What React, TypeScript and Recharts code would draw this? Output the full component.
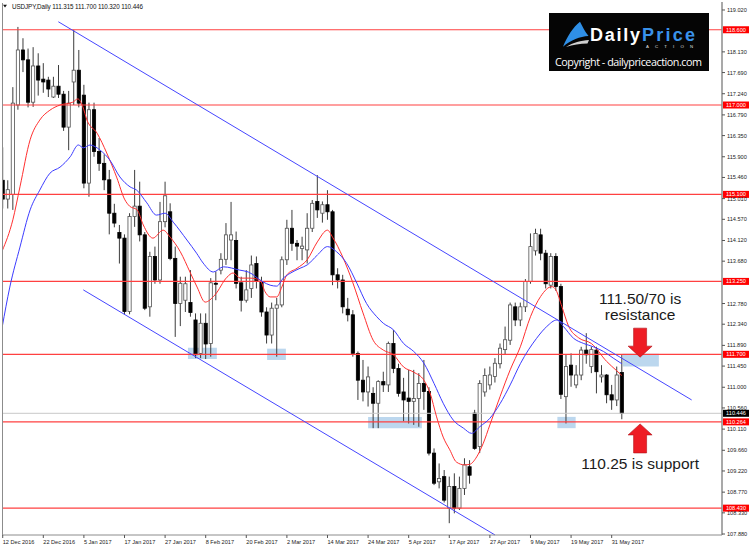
import React from "react";
import { ComposedChart, Bar, Line, XAxis, YAxis, ReferenceLine, ReferenceArea, ReferenceDot } from "recharts";

// daily candles (bar index 0 = 12 Dec 2016)
const opens = [
  115.4, 115.0, 115.1, 117.0, 118.17, 117.96, 117.06, 117.83, 117.55, 117.53,
  117.17, 117.4, 117.23, 116.53, 117.49, 117.74, 117.21, 115.34, 116.9, 116.01,
  115.76, 115.41, 114.7, 114.29, 114.17, 112.61, 114.63, 114.85, 114.24, 112.71,
  113.78, 113.28, 114.52, 114.73, 113.74, 112.78, 112.85, 112.8, 112.43, 111.72,
  112.36, 111.93, 113.21, 113.49, 113.72, 114.13, 114.12, 113.22, 112.85, 113.1,
  113.63, 113.25, 112.6, 112.11, 112.68, 112.75, 113.71, 114.38, 114.06, 113.95,
  113.92, 114.38, 114.95, 114.7, 114.88, 114.73, 113.39, 113.28, 112.66, 112.54,
  111.72, 111.15, 110.9, 110.87, 110.66, 111.12, 111.05, 111.93, 111.4, 110.9,
  110.77, 110.7, 110.76, 111.08, 110.91, 109.6, 108.99, 109.1, 108.43, 108.89,
  108.43, 108.85, 109.31, 110.45, 109.74, 110.9, 111.05, 111.23, 111.5, 111.8,
  112.0, 112.71, 112.43, 112.71, 113.25, 113.9, 114.24, 113.85, 113.17, 113.78,
  113.14, 110.8, 111.47, 111.05, 111.26, 111.79, 111.44, 111.79, 111.22, 111.26,
  110.84, 110.73, 111.315,
];
const highs = [
  116.1, 115.4, 117.38, 118.66, 118.42, 118.2, 118.23, 118.1, 117.89, 117.6,
  117.6, 117.85, 117.3, 117.3, 118.6, 118.17, 117.43, 117.05, 117.05, 116.3,
  115.95, 115.62, 114.9, 114.45, 114.25, 114.7, 115.62, 115.37, 114.3, 113.88,
  113.99, 114.94, 115.37, 114.91, 113.99, 113.35, 113.35, 113.49, 112.57, 112.57,
  112.57, 113.32, 113.46, 113.85, 114.49, 114.94, 114.31, 113.35, 113.49, 113.8,
  113.78, 113.35, 112.7, 112.8, 112.9, 113.78, 114.56, 114.77, 114.13, 114.2,
  114.7, 114.98, 115.51, 114.95, 115.19, 114.77, 113.53, 113.39, 112.9, 112.64,
  111.76, 111.58, 111.44, 111.0, 111.15, 111.33, 111.97, 112.22, 111.5, 111.2,
  111.37, 111.37, 111.3, 111.58, 111.0, 109.7, 109.38, 109.24, 109.1, 109.17,
  109.1, 109.49, 109.45, 110.52, 111.15, 111.4, 111.44, 111.62, 111.93, 112.29,
  112.8, 112.8, 112.8, 113.3, 114.27, 114.37, 114.37, 113.92, 113.85, 113.85,
  113.2, 111.69, 111.72, 111.47, 111.86, 112.15, 111.86, 111.86, 111.47, 111.28,
  111.05, 111.44, 111.7,
];
const lows = [
  114.8, 114.8, 114.77, 116.9, 117.7, 116.95, 116.96, 117.2, 117.26, 117.17,
  117.15, 117.15, 116.45, 116.04, 117.0, 116.95, 115.23, 115.05, 115.9, 115.6,
  115.19, 114.25, 114.4, 113.63, 112.55, 112.55, 114.41, 114.1, 112.64, 112.5,
  113.2, 113.2, 114.4, 113.7, 112.07, 112.3, 112.6, 112.5, 111.62, 111.62,
  111.6, 111.65, 112.85, 113.4, 113.6, 113.7, 113.1, 112.61, 112.8, 112.9,
  113.1, 112.5, 111.93, 111.93, 111.65, 112.7, 113.6, 113.9, 113.7, 113.7,
  113.63, 114.3, 114.6, 114.5, 114.56, 113.17, 113.1, 112.57, 112.4, 111.65,
  110.73, 110.7, 110.59, 110.13, 110.13, 110.9, 110.9, 111.3, 110.8, 110.28,
  110.23, 110.2, 110.16, 110.52, 109.55, 108.92, 108.85, 108.55, 108.11, 108.32,
  108.39, 108.71, 108.95, 109.67, 109.6, 110.8, 110.95, 111.1, 111.4, 111.7,
  111.9, 112.3, 112.3, 112.6, 113.2, 113.8, 113.7, 113.1, 113.1, 113.05,
  110.75, 110.23, 111.01, 110.98, 111.15, 111.5, 111.3, 110.87, 111.1, 110.66,
  110.52, 110.6, 110.32,
];
const closes = [
  115.0, 115.2, 117.04, 118.17, 117.96, 117.06, 117.83, 117.53, 117.49, 117.34,
  117.4, 117.23, 116.53, 117.04, 117.74, 117.04, 115.34, 116.9, 116.01, 115.76,
  115.41, 114.7, 114.49, 114.17, 112.61, 114.63, 114.85, 114.24, 112.68, 113.78,
  113.28, 114.52, 115.07, 113.74, 112.78, 113.21, 113.2, 112.59, 111.69, 112.36,
  111.92, 113.22, 113.19, 113.72, 114.24, 114.24, 113.21, 112.85, 113.07, 113.6,
  113.25, 112.6, 112.11, 112.68, 112.75, 113.71, 114.38, 114.06, 114.0, 114.0,
  114.38, 114.91, 114.77, 114.88, 114.73, 113.39, 113.28, 112.71, 112.54, 111.72,
  111.15, 110.9, 111.22, 110.66, 111.12, 111.05, 111.93, 111.4, 110.87, 110.73,
  110.7, 110.76, 111.08, 110.91, 109.6, 108.96, 109.06, 108.6, 108.89, 108.43,
  108.85, 109.35, 109.13, 109.7, 111.08, 111.25, 111.26, 111.51, 111.83, 112.01,
  112.75, 112.43, 112.71, 113.25, 113.99, 114.27, 113.85, 113.2, 113.78, 113.14,
  110.85, 111.44, 111.26, 111.26, 111.79, 111.69, 111.8, 111.33, 111.26, 110.84,
  110.73, 111.26, 110.446,
];

// moving averages, sampled off the chart (bar index, price)
const redMaIdx = [-0.1, 2, 3.4, 5.4, 7.3, 9.3, 11.3, 13.8, 14.8, 15.8, 16.6, 18.6, 20.5, 22.5, 24, 25, 26.5, 27.7, 29.6, 31.6, 33, 35, 36.9, 38.3, 39.9, 41.8, 44.2, 45.4, 46.8, 48.7, 50.7, 51.7, 52.7, 54, 55, 56, 58, 60, 62, 64, 65, 67, 69, 71, 73, 75, 77, 79, 81, 83, 84.2, 85.5, 86.8, 88.1, 89.4, 91, 92, 93.4, 94.7, 96, 98, 100, 102, 104, 106, 108.2, 109, 110.2, 111.5, 113.5, 116, 119, 121, 122];
const redMaVal = [113.9, 114.56, 115.26, 116.26, 116.68, 116.89, 117.0, 117.06, 117.13, 116.96, 116.68, 116.4, 115.98, 115.45, 115.0, 114.85, 114.77, 114.45, 114.17, 114.34, 114.19, 113.88, 113.45, 113.13, 112.81, 112.96, 113.34, 113.43, 113.32, 113.32, 113.28, 113.03, 112.92, 112.92, 113.13, 113.39, 113.53, 113.71, 114.09, 114.34, 114.19, 113.77, 113.22, 112.58, 112.0, 111.79, 111.69, 111.43, 111.32, 111.15, 110.88, 110.37, 109.94, 109.67, 109.41, 109.35, 109.36, 109.52, 109.81, 110.2, 110.8, 111.37, 111.86, 112.5, 112.93, 113.14, 113.07, 112.71, 112.3, 112.05, 111.93, 111.55, 111.35, 111.25];
const blueMaIdx = [-0.1, 1.4, 3.4, 5.4, 7.3, 9.3, 11.3, 13.3, 14.9, 15.9, 17.2, 19.2, 21.1, 23.1, 25.1, 26.4, 28.4, 30.3, 32, 33.6, 36.3, 38.2, 39.5, 41.5, 43.5, 46.7, 48.4, 51.3, 52.7, 54, 55.3, 56.6, 58.6, 60, 62, 64, 65.8, 67.8, 69.8, 71.7, 73.7, 75, 77, 79, 81, 83, 85, 86.8, 88.8, 90.8, 92.4, 94, 96, 98, 100, 102, 105.2, 107.2, 109.2, 110.5, 112.5, 114.5, 116.4, 118.4, 120.3, 122];
const blueMaVal = [112.28, 113.13, 113.98, 114.77, 115.19, 115.55, 115.68, 115.9, 116.15, 116.09, 116.15, 116.04, 115.83, 115.47, 115.26, 115.19, 114.92, 114.66, 114.7, 114.51, 114.13, 113.85, 113.64, 113.45, 113.56, 113.49, 113.45, 113.24, 113.17, 113.15, 113.32, 113.42, 113.53, 113.6, 113.81, 113.99, 113.88, 113.63, 113.21, 112.78, 112.5, 112.36, 112.22, 111.93, 111.76, 111.51, 111.08, 110.66, 110.3, 110.13, 110.02, 110.16, 110.34, 110.65, 111.05, 111.5, 112.04, 112.29, 112.43, 112.29, 112.04, 111.93, 111.86, 111.76, 111.62, 111.5];

// drawn objects
const levels = [118.6, 117.0, 115.1, 113.25, 111.7, 110.264, 108.43];
const lastPrice = 110.446;
const channelUpper = [[10.96, 118.77], [135.76, 110.73]];
const channelLower = [[15.88, 113.07], [97.0, 107.86]];
const zones = [
  [36.5, 42.2, 111.6, 111.84],
  [52.1, 55.8, 111.58, 111.82],
  [72.0, 82.6, 110.13, 110.37],
  [109.3, 112.9, 110.13, 110.37],
  [122.2, 129.3, 111.44, 111.71],
];

const xTickIdx = [0, 8, 16, 24, 32, 40, 48, 56, 64, 72, 80, 88, 96, 104, 112, 120];
const xTickLabels = ["12 Dec 2016", "22 Dec 2016", "5 Jan 2017", "17 Jan 2017", "27 Jan 2017", "8 Feb 2017", "20 Feb 2017", "2 Mar 2017", "14 Mar 2017", "24 Mar 2017", "5 Apr 2017", "17 Apr 2017", "27 Apr 2017", "9 May 2017", "19 May 2017", "31 May 2017"];
const yTicks = [119.02, 118.13, 117.69, 117.24, 116.79, 116.35, 115.9, 115.46, 115.01, 114.57, 114.12, 113.68, 112.78, 112.34, 111.89, 111.45, 111.0, 110.56, 110.11, 109.66, 109.22, 108.77, 108.33, 107.88];

const candles = opens.map((o, i) => ({ i, o, h: highs[i], l: lows[i], c: closes[i] }));
const redMa = redMaIdx.map((i, k) => ({ i, v: redMaVal[k] }));
const blueMa = blueMaIdx.map((i, k) => ({ i, v: blueMaVal[k] }));

const FONT = "'Liberation Sans', Arial, sans-serif";

function Candle(props: any) {
  const { x, y, width, height, payload } = props;
  if (x == null || !payload) return null;
  const top = Math.min(y, y + height);
  const bot = Math.max(y, y + height);
  const span = payload.h - payload.l || 1;
  const py = (v: number) => top + ((payload.h - v) / span) * (bot - top);
  const cx = x + width / 2;
  const up = payload.c >= payload.o;
  const bTop = py(Math.max(payload.o, payload.c));
  const bBot = py(Math.min(payload.o, payload.c));
  return (
    <g>
      <line x1={cx} x2={cx} y1={top} y2={bot} stroke="#3c3c3c" strokeWidth={1} />
      <rect
        x={cx - 1.6}
        y={bTop}
        width={3.2}
        height={Math.max(bBot - bTop, 0.8)}
        fill={up ? "#ffffff" : "#000000"}
        stroke={up ? "#505050" : "#000000"}
        strokeWidth={0.8}
      />
    </g>
  );
}

function PriceTag({ viewBox, text, bg }: any) {
  if (!viewBox) return null;
  const x = viewBox.x + viewBox.width + 1;
  const y = viewBox.y;
  return (
    <g>
      <rect x={x} y={y - 3.5} width={26} height={7} fill={bg} />
      <text x={x + 13} y={y + 2} fontSize={5.6} fill="#fff" textAnchor="middle" fontFamily={FONT}>
        {text}
      </text>
    </g>
  );
}

function XTick({ x, y, payload }: any) {
  const k = xTickIdx.indexOf(payload.value);
  return (
    <text x={x} y={y + 4} fontSize={5.6} fill="#222" fontFamily={FONT}>
      {xTickLabels[k]}
    </text>
  );
}

const noteText = (txt: string) => (p: any) => (
  <text x={p.cx} y={p.cy} fontSize={15.5} fill="#1a1a1a" textAnchor="middle" fontFamily={FONT}>
    {txt}
  </text>
);

const ArrowDown = (p: any) => (
  <path
    d={`M${p.cx - 6.5},${p.cy - 29} h13 v18 h5.5 L${p.cx},${p.cy} L${p.cx - 12},${p.cy - 11} h5.5 Z`}
    fill="#ee1c24"
    stroke="#b01018"
    strokeWidth={0.6}
  />
);
const ArrowUp = (p: any) => (
  <path
    d={`M${p.cx - 6.5},${p.cy + 29} h13 v-18 h5.5 L${p.cx},${p.cy} L${p.cx - 12},${p.cy + 11} h5.5 Z`}
    fill="#ee1c24"
    stroke="#b01018"
    strokeWidth={0.6}
  />
);

export default function App() {
  return (
    <div style={{ position: "relative", width: 750, height: 549, background: "#fff" }}>
      <style>{`body{margin:0}`}</style>
      <ComposedChart width={750} height={549} data={candles} margin={{ top: 2, right: 0, bottom: 0, left: 2 }}>
        <XAxis
          type="number"
          dataKey="i"
          domain={[-0.14, 141.74]}
          allowDataOverflow
          ticks={xTickIdx}
          interval={0}
          tick={<XTick />}
          tickSize={3}
          height={14}
          axisLine={{ stroke: "#8c8c8c" }}
          tickLine={{ stroke: "#555" }}
        />
        <YAxis
          orientation="right"
          type="number"
          domain={[107.859, 119.19]}
          allowDataOverflow
          ticks={yTicks}
          interval={0}
          width={28}
          tickSize={3}
          tickFormatter={(v: number) => v.toFixed(3)}
          tick={{ fontSize: 5.6, fill: "#222", fontFamily: FONT }}
          axisLine={{ stroke: "#8c8c8c", strokeWidth: 1.5 }}
          tickLine={{ stroke: "#555" }}
        />
        {zones.map((z, k) => (
          <ReferenceArea key={k} x1={z[0]} x2={z[1]} y1={z[2]} y2={z[3]} fill="#a6c9e8" fillOpacity={0.75} stroke="none" />
        ))}
        <ReferenceLine y={lastPrice} stroke="#c8c8c8" strokeWidth={1} label={<PriceTag text={lastPrice.toFixed(3)} bg="#000" />} />
        {levels.map((v) => (
          <ReferenceLine key={v} y={v} stroke="#ff4040" strokeWidth={1.2} label={<PriceTag text={v.toFixed(3)} bg="#ff0000" />} />
        ))}
        <Bar dataKey={(d: any) => [d.l, d.h]} barSize={3} shape={<Candle />} isAnimationActive={false} />
        <Line data={redMa} dataKey="v" type="monotone" dot={false} stroke="#ff3030" strokeWidth={1} isAnimationActive={false} />
        <Line data={blueMa} dataKey="v" type="monotone" dot={false} stroke="#3c3cff" strokeWidth={1} isAnimationActive={false} />
        <ReferenceLine
          segment={[{ x: channelUpper[0][0], y: channelUpper[0][1] }, { x: channelUpper[1][0], y: channelUpper[1][1] }]}
          stroke="#4646ff"
          strokeWidth={1}
        />
        <ReferenceLine
          segment={[{ x: channelLower[0][0], y: channelLower[0][1] }, { x: channelLower[1][0], y: channelLower[1][1] }]}
          stroke="#4646ff"
          strokeWidth={1}
        />
        <ReferenceDot x={125.6} y={111.64} r={0} shape={ArrowDown} />
        <ReferenceDot x={125.6} y={110.22} r={0} shape={ArrowUp} />
        <ReferenceDot x={125.6} y={112.78} r={0} shape={noteText("111.50/70 is")} />
        <ReferenceDot x={125.6} y={112.43} r={0} shape={noteText("resistance")} />
        <ReferenceDot x={125.6} y={109.26} r={0} shape={noteText("110.25 is support")} />
      </ComposedChart>

      <svg width={750} height={549} style={{ position: "absolute", left: 0, top: 0, pointerEvents: "none" }}>
        <line x1={2.5} x2={2.5} y1={3} y2={535} stroke="#8c8c8c" strokeWidth={1} />
        <path d="M3,4.7 L7,4.7 L5,7.4 Z" fill="#111" />
        <text x={12} y={8.6} fontSize={6.3} fill="#111" fontFamily={FONT} textLength={131}>
          USDJPY,Daily  111.315 111.700 110.320 110.446
        </text>

        <rect x={549} y={13} width={160} height={58} fill="#050505" />
        <path d="M563,46.7 C567,37 573,27 580,21.7 C583,27 585,32 588.5,36 C580,36.5 571,40 563,46.7 Z" fill="#2f8fe6" />
        <path d="M566,47 C573,42.5 581,40.5 589,40 L587.5,43.5 C580,43.5 573,45 566,47 Z" fill="#cfcfcf" />
        <text x={590} y={41} fontSize={18} fontWeight="bold" fill="#ffffff" fontFamily={FONT} textLength={50}>
          Daily
        </text>
        <text x={642} y={41} fontSize={18} fontWeight="bold" fill="#3a92ea" fontFamily={FONT} textLength={53}>
          Price
        </text>
        <text x={646} y={48} fontSize={4.3} fill="#e0e0e0" fontFamily={FONT} textLength={47}>
          ACTION
        </text>
        <text x={555} y={66} fontSize={10.8} fill="#ffffff" fontFamily="'Open Sans', 'Noto Sans', sans-serif" textLength={147}>
          Copyright - dailypriceaction.com
        </text>
      </svg>
    </div>
  );
}
